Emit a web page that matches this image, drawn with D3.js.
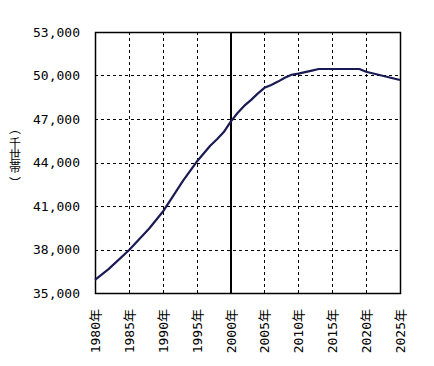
<!DOCTYPE html>
<html lang="ja">
<head>
<meta charset="UTF-8">
<title>世帯数の推移</title>
<script src="https://cdn.jsdelivr.net/npm/d3@7"></script>
<style>
  body { margin: 0; background: #fff; }
  svg text { font-family: 'DejaVu Sans Mono', 'Noto Sans CJK JP', monospace; fill: #000; }
  svg text.unit { font-family: 'Noto Sans CJK JP', sans-serif; }
</style>
</head>
<body>
<div id="chart"></div>
<script>

// values (thousand households)
var years = [1980, 1982, 1985, 1988, 1990, 1993, 1995, 1997, 1998, 1999, 2000, 2001, 2002, 2003,
             2004, 2005, 2006, 2007, 2008, 2009, 2010, 2011, 2012, 2013, 2019, 2020, 2025];
var households = [35900, 36650, 37950, 39450, 40600, 42750, 44050, 45150, 45600, 46100, 46800, 47400,
                  47900, 48300, 48750, 49150, 49350, 49580, 49850, 50050, 50130, 50230, 50340, 50450,
                  50450, 50260, 49690];

var xTicks = [1980, 1985, 1990, 1995, 2000, 2005, 2010, 2015, 2020, 2025];
var yTicks = [35000, 38000, 41000, 44000, 47000, 50000, 53000];
var yUnitChars = ["︵", "千", "世", "帯", "︶"];   // （千世帯） written vertically

var W = 434, H = 366;
var pLeft = 95, pRight = 400, pTop = 32, pBottom = 293;

var svg = d3.select("#chart").append("svg")
  .attr("width", W)
  .attr("height", H);

var x = d3.scaleLinear().domain([1980, 2025]).range([pLeft, pRight]);
var y = d3.scaleLinear().domain([35000, 53000]).range([pBottom, pTop]);

// dashed grid
svg.append("g").selectAll("line")
  .data(yTicks.slice(1, -1))
  .enter().append("line")
  .attr("x1", pLeft).attr("x2", pRight)
  .attr("y1", function(d) { return Math.round(y(d)) + 0.5; })
  .attr("y2", function(d) { return Math.round(y(d)) + 0.5; })
  .attr("stroke", "#000").attr("stroke-width", 1)
  .attr("stroke-dasharray", "3,3");

svg.append("g").selectAll("line")
  .data(xTicks.slice(1, -1).filter(function(d) { return d != 2000; }))
  .enter().append("line")
  .attr("x1", function(d) { return Math.round(x(d)) + 0.5; })
  .attr("x2", function(d) { return Math.round(x(d)) + 0.5; })
  .attr("y1", pTop).attr("y2", pBottom)
  .attr("stroke", "#000").attr("stroke-width", 1)
  .attr("stroke-dasharray", "3,3");

// frame
svg.append("rect")
  .attr("x", pLeft + 0.5).attr("y", pTop + 0.5)
  .attr("width", pRight - pLeft).attr("height", pBottom - pTop)
  .attr("fill", "none").attr("stroke", "#000").attr("stroke-width", 1.5);

// 2000 marker
svg.append("line")
  .attr("x1", Math.round(x(2000))).attr("x2", Math.round(x(2000)))
  .attr("y1", pTop).attr("y2", pBottom)
  .attr("stroke", "#000").attr("stroke-width", 2);

// series
var line = d3.line()
  .x(function(d, i) { return x(years[i]); })
  .y(function(d) { return y(d); });

svg.append("path")
  .datum(households)
  .attr("d", line)
  .attr("fill", "none")
  .attr("stroke", "#1a1a55")
  .attr("stroke-width", 2.2)
  .attr("stroke-linejoin", "round");

// y tick labels
var yAxis = svg.append("g")
  .attr("transform", "translate(" + pLeft + ",0)")
  .call(d3.axisLeft(y).tickValues(yTicks).tickSize(0).tickPadding(15).tickFormat(d3.format(",")));
yAxis.select(".domain").remove();
yAxis.selectAll("text").attr("font-size", 13).attr("font-family", null);

// x tick labels, rotated
var xAxis = svg.append("g")
  .attr("transform", "translate(0," + pBottom + ")")
  .call(d3.axisBottom(x).tickValues(xTicks).tickSize(0).tickFormat(function(d) { return d + "年"; }));
xAxis.select(".domain").remove();
xAxis.selectAll("text")
  .attr("font-size", 13).attr("font-family", null)
  .attr("text-anchor", "end")
  .attr("dy", null)
  .attr("y", 0)
  .attr("dominant-baseline", "central")
  .attr("transform", "translate(0,16) rotate(-90)");

// vertical unit label, one glyph per line
var unitY = [127, 142, 153.8, 165.6, 182];
svg.append("text")
  .attr("class", "unit")
  .attr("font-size", 12)
  .attr("text-anchor", "middle")
  .attr("dominant-baseline", "central")
  .selectAll("tspan")
  .data(yUnitChars)
  .enter().append("tspan")
  .attr("x", 15)
  .attr("y", function(d, i) { return unitY[i]; })
  .text(function(d) { return d; });

</script>
</body>
</html>
